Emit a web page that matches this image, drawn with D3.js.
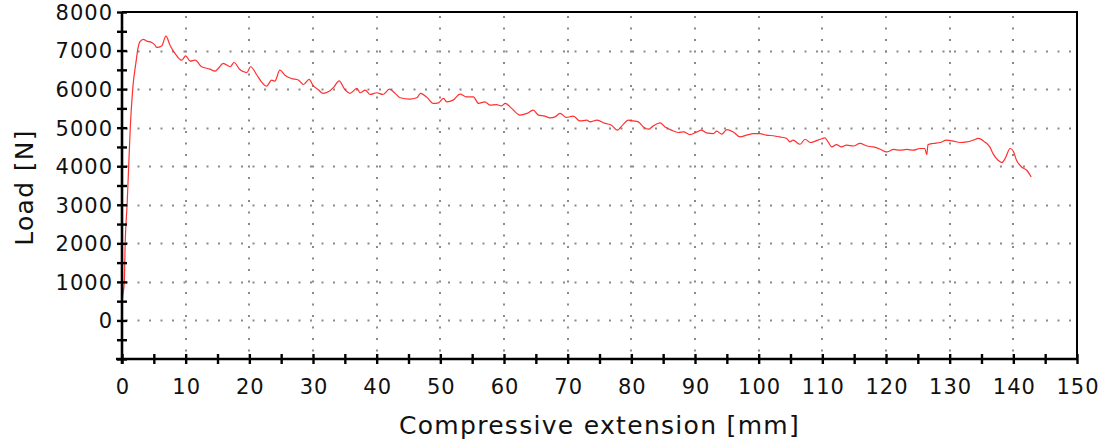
<!DOCTYPE html>
<html><head><meta charset="utf-8">
<script src="https://cdn.jsdelivr.net/npm/d3@7"></script>
<style>body{margin:0;background:#fff}svg{display:block}text{font-family:"DejaVu Sans",Verdana,sans-serif;fill:#111}</style>
</head><body><svg id="c" width="1106" height="442"></svg>
<script>
const extension = [0,0.05,0.36,0.5,0.8,1.05,1.3,1.68,2.2,2.5,2.83,3.35,3.88,4.66,5.18,5.45,6.23,6.91,7.54,8.32,9.37,10.0,10.7,11.5,12.5,13.8,14.6,15.1,15.9,17.0,17.6,18.5,19.6,20.2,21.2,21.9,22.7,23.5,24.0,24.8,25.6,26.6,27.7,28.5,29.4,30.0,30.8,31.6,32.4,33.3,34.1,35.0,35.8,36.9,37.4,38.2,39.0,40.0,41.0,42.0,42.9,43.7,45.2,46.3,46.9,47.9,48.9,49.7,50.5,51.0,52.0,53.1,54.1,55.2,56.0,57.0,57.8,58.8,59.6,60.2,61.2,62.5,63.6,64.6,65.4,66.4,67.2,68.0,68.8,69.8,70.9,71.9,73.0,73.5,74.6,75.9,76.9,77.8,78.7,79.5,80.3,81.1,81.9,82.7,83.4,84.5,85.3,86.3,87.4,88.2,89.2,90.3,91.0,91.8,92.9,93.4,94.2,95.0,96.0,97.1,98.1,99.2,100.2,101.2,102.3,103.3,104.4,104.9,105.4,106.5,107.3,108.1,108.9,109.7,110.4,110.9,111.5,112.2,113.0,113.8,114.9,115.9,117.0,118.0,119.1,120.1,121.2,122.2,123.3,124.3,125.3,126.1,126.4,126.6,127.4,128.5,129.5,130.6,131.6,132.7,133.7,134.5,135.5,136.3,136.9,137.6,138.2,138.7,139.5,140.0,140.5,141.3,142.1,142.8];
const load = [0,500,1000,2000,3000,4000,5000,6000,6700,7050,7230,7290,7245,7210,7140,7080,7120,7375,7140,6925,6750,6860,6725,6750,6580,6520,6465,6535,6665,6580,6690,6510,6430,6580,6360,6190,6075,6235,6205,6490,6360,6275,6235,6120,6250,6100,5990,5890,5930,6060,6215,5990,5890,6020,5905,5975,5860,5905,5860,6000,5890,5775,5740,5775,5890,5785,5630,5645,5760,5670,5715,5870,5800,5800,5630,5670,5585,5600,5565,5630,5500,5325,5370,5455,5325,5300,5255,5280,5370,5265,5300,5175,5195,5150,5195,5110,5065,4935,5080,5195,5175,5150,5020,4960,5040,5125,5020,4935,4875,4890,4820,4890,4935,4865,4845,4910,4830,4950,4890,4760,4805,4845,4845,4805,4790,4760,4720,4630,4675,4570,4700,4615,4650,4700,4735,4630,4500,4560,4500,4545,4525,4590,4525,4500,4440,4370,4435,4415,4435,4415,4460,4460,4300,4560,4590,4615,4675,4650,4615,4630,4675,4720,4630,4500,4300,4155,4095,4195,4460,4390,4155,3980,3895,3720];
const xTicks = [0,10,20,30,40,50,60,70,80,90,100,110,120,130,140,150];
const yTicks = [0,1000,2000,3000,4000,5000,6000,7000,8000];
const xLabel = "Compressive extension [mm]";
const yLabel = "Load [N]";

const svg = d3.select("#c");
const L = 122, R = 1077, T = 12, B = 359;
const x = d3.scaleLinear().domain([0,150]).range([L,R]);
const y = d3.scaleLinear().domain([-1000,8000]).range([B,T]);

// grid
const g = svg.append("g").attr("stroke","#8a8a8a").attr("stroke-width",2).attr("stroke-dasharray","2,9.5");
g.selectAll("line.h").data(yTicks.filter(d=>d<8000)).join("line")
  .attr("x1",L+4).attr("x2",R).attr("y1",d=>Math.round(y(d))+0.5).attr("y2",d=>Math.round(y(d))+0.5);
g.selectAll("line.v").data(xTicks.filter(d=>d>0&&d<150)).join("line")
  .attr("y1",T+4).attr("y2",B).attr("x1",d=>Math.round(x(d))).attr("x2",d=>Math.round(x(d)));

// frame (top, right)
svg.append("path").attr("d",`M${L},${T}H${R}V${B}`).attr("fill","none").attr("stroke","#000").attr("stroke-width",2);

// curve
svg.append("path").datum(extension.map((e,i)=>[e,load[i]]))
  .attr("d", d3.line().curve(d3.curveMonotoneX).x(d=>x(d[0])).y(d=>y(d[1])))
  .attr("fill","none").attr("stroke","#ff3030").attr("stroke-width",1.2).attr("stroke-linejoin","round");

// axes
const minorX = d3.range(0,151,5), minorY = d3.range(-1000,8001,500);
const xa = svg.append("g").attr("transform",`translate(0,${B})`)
  .call(d3.axisBottom(x).tickValues(minorX).tickSize(5).tickFormat(d=>xTicks.includes(d)?d:""));
const ya = svg.append("g").attr("transform",`translate(${L},0)`)
  .call(d3.axisLeft(y).tickValues(minorY).tickSize(5).tickFormat(d=>yTicks.includes(d)?d:""));
[xa,ya].forEach(a=>{
  a.select(".domain").attr("stroke","#000").attr("stroke-width",2.6);
  a.selectAll(".tick line").attr("stroke","#000").attr("stroke-width",2.4);
  a.selectAll(".tick text").attr("font-size",21).attr("letter-spacing","1px").attr("fill","#111");
});
xa.selectAll(".tick line").attr("y1",-5);
ya.selectAll(".tick line").attr("x1",5);
xa.select(".domain").attr("d",`M${L-6},0H${R}`);
ya.select(".domain").attr("d",`M0,${T}V${B+5}`);
xa.selectAll(".tick text").attr("y",20).attr("dy","0.71em").attr("dx","0.5px");
ya.selectAll(".tick text").attr("x",-9).attr("dy","0.35em");

svg.append("text").attr("x",(L+R)/2).attr("y",434).attr("text-anchor","middle").attr("font-size",25).attr("letter-spacing","1.3px").text(xLabel);
svg.append("text").attr("transform",`translate(33,${(T+B)/2+2}) rotate(-90)`).attr("text-anchor","middle").attr("font-size",25).attr("letter-spacing","1.3px").text(yLabel);
</script></body></html>
